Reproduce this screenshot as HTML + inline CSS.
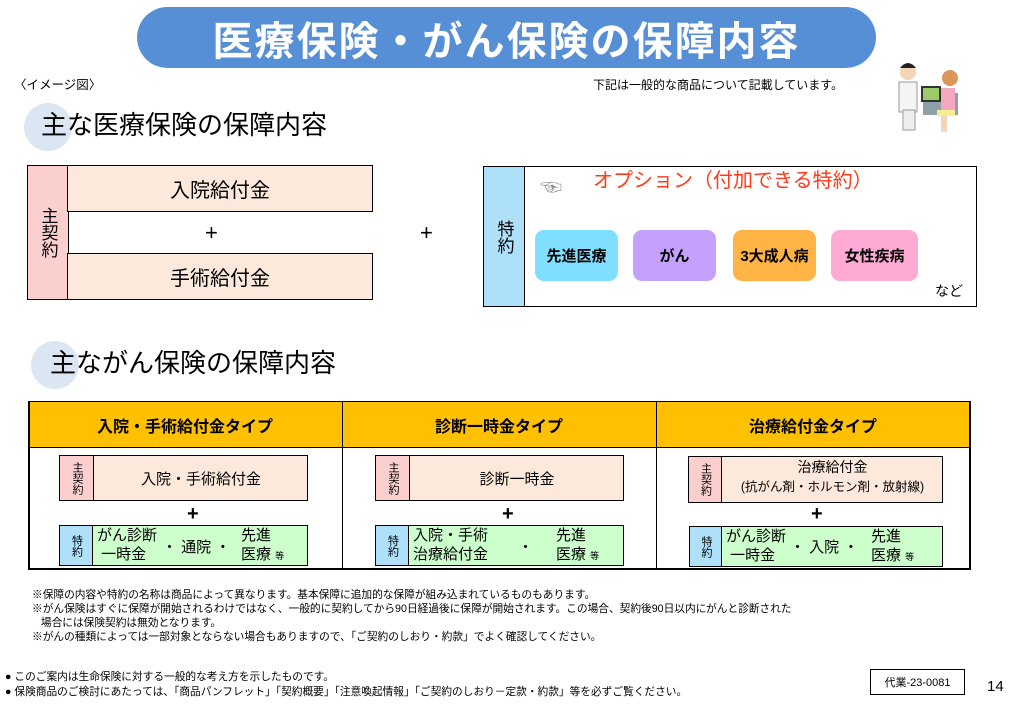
<!DOCTYPE html>
<html><head><meta charset="utf-8"><style>
*{margin:0;padding:0;box-sizing:border-box}
body{width:1017px;height:705px;background:#fff;position:relative;overflow:hidden;font-family:"Liberation Sans","Noto Sans CJK JP",sans-serif;color:#000}
.a{position:absolute}
.c{display:flex;align-items:center;justify-content:center;text-align:center}
.b{border:1.5px solid #000}
.v{writing-mode:vertical-rl;text-orientation:upright;letter-spacing:0}
.chip{position:absolute;top:230px;height:51px;border-radius:9px;font-weight:bold;font-size:15px;display:flex;align-items:center;justify-content:center}
.note{font-size:10.7px;line-height:14px;white-space:nowrap}
</style></head><body>
<div class="a c" style="left:137px;top:7px;width:739px;height:61px;background:#568fd6;border-radius:31px;color:#fff;font-weight:bold;font-size:40px;letter-spacing:2px">医療保険・がん保険の保障内容</div>
<div class="a" style="left:14px;top:74px;font-size:12.5px">〈イメージ図〉</div>
<div class="a" style="left:593px;top:76px;font-size:12px">下記は一般的な商品について記載しています。</div>
<svg class="a" style="left:893px;top:58px" width="70" height="80" viewBox="0 0 70 80">
<rect x="30" y="35" width="35" height="22" fill="#8fa0a8"/><rect x="28" y="28" width="20" height="16" fill="#333"/><rect x="30" y="30" width="16" height="12" fill="#9c6"/>
<circle cx="15" cy="14" r="8" fill="#f5d4b8"/><path d="M7 10q8-10 16 0z" fill="#222"/>
<rect x="6" y="24" width="18" height="30" fill="#f4f4f4" stroke="#999"/><rect x="10" y="52" width="12" height="20" fill="#eee" stroke="#999"/>
<circle cx="57" cy="20" r="8" fill="#d99858"/><rect x="48" y="30" width="14" height="24" fill="#f4a8c0"/><rect x="44" y="52" width="18" height="6" fill="#f5ee90"/>
<rect x="48" y="58" width="6" height="16" fill="#f5d4b8"/>
</svg>
<div class="a" style="left:24px;top:103px;width:48px;height:48px;border-radius:50%;background:#dce5f2"></div>
<div class="a" style="left:41px;top:109px;font-size:26px;line-height:32px">主な医療保険の保障内容</div>
<div class="a b c v" style="left:27px;top:165px;width:42px;height:135px;background:#fccfcf;font-size:17px">主契約</div>
<div class="a b c" style="left:67px;top:165px;width:306px;height:47px;background:#fde9db;font-size:20px">入院給付金</div>
<div class="a b c" style="left:67px;top:253px;width:306px;height:47px;background:#fde9db;font-size:20px">手術給付金</div>
<div class="a" style="left:205px;top:220px;font-size:22px">+</div>
<div class="a" style="left:420px;top:220px;font-size:22px">+</div>
<div class="a b" style="left:483px;top:166px;width:494px;height:141px"></div>
<div class="a b c v" style="left:483px;top:166px;width:42px;height:141px;background:#aee0fa;font-size:17px">特約</div>
<div class="a" style="left:540px;top:170px;font-size:22px;color:#888">☜</div>
<div class="a" style="left:593px;top:167px;font-size:20px;color:#ff3b1a;line-height:28px">オプション（付加できる特約）</div>
<div class="chip" style="left:535px;width:83px;background:#80dfff">先進医療</div>
<div class="chip" style="left:633px;width:83px;background:#c4a0ff">がん</div>
<div class="chip" style="left:733px;width:83px;background:#ffb445">3大成人病</div>
<div class="chip" style="left:831px;width:87px;background:#ffaad4">女性疾病</div>
<div class="a" style="left:935px;top:281px;font-size:14px">など</div>
<div class="a" style="left:31px;top:341px;width:48px;height:48px;border-radius:50%;background:#dce5f2"></div>
<div class="a" style="left:50px;top:347px;font-size:26px;line-height:32px">主ながん保険の保障内容</div>
<div class="a" style="left:28px;top:401px;width:942px;height:47px;background:#ffc000;border:1.5px solid #000"></div>
<div class="a" style="left:28px;top:401px;width:1.5px;height:169px;background:#000"></div>
<div class="a" style="left:342px;top:401px;width:1px;height:169px;background:#000"></div>
<div class="a" style="left:656px;top:401px;width:1px;height:169px;background:#000"></div>
<div class="a" style="left:969px;top:401px;width:1.5px;height:169px;background:#000"></div>
<div class="a" style="left:28px;top:568px;width:942px;height:1.5px;background:#000"></div>
<div class="a c" style="left:28px;top:401px;width:314px;height:47px;font-weight:bold;font-size:16px">入院・手術給付金タイプ</div>
<div class="a c" style="left:342px;top:401px;width:314px;height:47px;font-weight:bold;font-size:16px">診断一時金タイプ</div>
<div class="a c" style="left:656px;top:401px;width:314px;height:47px;font-weight:bold;font-size:16px">治療給付金タイプ</div>

<div class="a b" style="left:59px;top:455px;width:249px;height:46px;background:#fde9db"></div>
<div class="a b c v" style="left:59px;top:455px;width:35px;height:46px;background:#fccfcf;font-size:11px;line-height:11px">主契約</div>
<div class="a c" style="left:94px;top:455px;width:214px;height:46px;font-size:15px">入院・手術給付金</div>
<div class="a" style="left:187px;top:503px;font-size:20px;font-weight:bold">+</div>
<div class="a b" style="left:59px;top:525px;width:249px;height:41px;background:#ccffcc"></div>
<div class="a b c v" style="left:59px;top:525px;width:34px;height:41px;background:#aee0fa;font-size:11px;line-height:11px">特約</div>
<div class="a" style="left:97px;top:526px;font-size:15px;line-height:19px">がん診断<br>&nbsp;一時金</div>
<div class="a" style="left:162px;top:536px;font-size:15px">・ 通院 ・</div>
<div class="a" style="left:241px;top:526px;font-size:15px;line-height:19px">先進<br>医療 <span style="font-size:9px">等</span></div>

<div class="a b" style="left:375px;top:455px;width:249px;height:46px;background:#fde9db"></div>
<div class="a b c v" style="left:375px;top:455px;width:35px;height:46px;background:#fccfcf;font-size:11px;line-height:11px">主契約</div>
<div class="a c" style="left:410px;top:455px;width:214px;height:46px;font-size:15px">診断一時金</div>
<div class="a" style="left:502px;top:503px;font-size:20px;font-weight:bold">+</div>
<div class="a b" style="left:375px;top:525px;width:249px;height:41px;background:#ccffcc"></div>
<div class="a b c v" style="left:375px;top:525px;width:34px;height:41px;background:#aee0fa;font-size:11px;line-height:11px">特約</div>
<div class="a" style="left:413px;top:526px;font-size:15px;line-height:19px">入院・手術<br>治療給付金</div>
<div class="a" style="left:518px;top:536px;font-size:15px">・</div>
<div class="a" style="left:556px;top:526px;font-size:15px;line-height:19px">先進<br>医療 <span style="font-size:9px">等</span></div>

<div class="a b" style="left:688px;top:456px;width:255px;height:47px;background:#fde9db"></div>
<div class="a b c v" style="left:688px;top:456px;width:34px;height:47px;background:#fccfcf;font-size:11px;line-height:11px">主契約</div>
<div class="a" style="left:722px;top:458px;width:221px;text-align:center;font-size:14px;line-height:19px">治療給付金<br><span style="font-size:12.5px">(抗がん剤・ホルモン剤・放射線)</span></div>
<div class="a" style="left:811px;top:503px;font-size:20px;font-weight:bold">+</div>
<div class="a b" style="left:689px;top:526px;width:254px;height:41px;background:#ccffcc"></div>
<div class="a b c v" style="left:689px;top:526px;width:33px;height:41px;background:#aee0fa;font-size:11px;line-height:11px">特約</div>
<div class="a" style="left:726px;top:527px;font-size:15px;line-height:19px">がん診断<br>&nbsp;一時金</div>
<div class="a" style="left:790px;top:536px;font-size:15px">・ 入院 ・</div>
<div class="a" style="left:871px;top:527px;font-size:15px;line-height:19px">先進<br>医療 <span style="font-size:9px">等</span></div>

<div class="a note" style="left:32px;top:588px">※保障の内容や特約の名称は商品によって異なります。基本保障に追加的な保障が組み込まれているものもあります。<br>※がん保険はすぐに保障が開始されるわけではなく、一般的に契約してから90日経過後に保障が開始されます。この場合、契約後90日以内にがんと診断された<br>&nbsp;&nbsp;&nbsp;場合には保険契約は無効となります。<br>※がんの種類によっては一部対象とならない場合もありますので、「ご契約のしおり・約款」でよく確認してください。</div>
<div class="a note" style="left:5px;top:670px;line-height:15px">●&nbsp;このご案内は生命保険に対する一般的な考え方を示したものです。<br>●&nbsp;保険商品のご検討にあたっては、「商品パンフレット」「契約概要」「注意喚起情報」「ご契約のしおり－定款・約款」等を必ずご覧ください。</div>
<div class="a c" style="left:870px;top:669px;width:95px;height:26px;border:1px solid #000;font-size:11px">代業-23-0081</div>
<div class="a" style="left:987px;top:678px;font-size:15px">14</div>
</body></html>
